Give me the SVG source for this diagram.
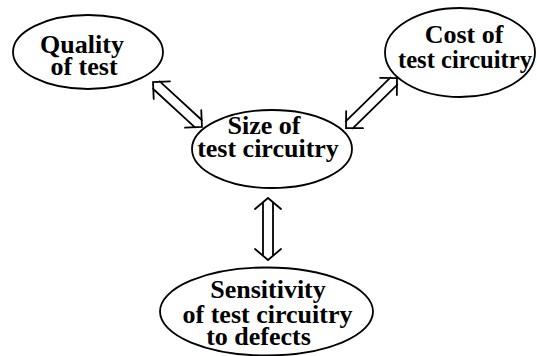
<svg xmlns="http://www.w3.org/2000/svg" width="537" height="356" viewBox="0 0 537 356">
<style>
.node ellipse{fill:#fff;stroke:#000;stroke-width:1.8}
.node text{font-family:"Liberation Serif","Times New Roman",serif;font-weight:bold;font-size:26px;fill:#000;text-anchor:middle}
.arrow{fill:none;stroke:#000;stroke-width:1.8;stroke-linecap:round;stroke-linejoin:miter}
</style>
<rect width="537" height="356" fill="#fff"/>
<g id="connectors">
<path class="arrow" transform="translate(153,82) rotate(42.6)" d="M12,-12 L0,0 L12,12 M4.5,-5 L62,-5 M4.5,5 L62,5 M54.5,-12 L66.5,0 L54.5,12"/>
<path class="arrow" transform="translate(346,128) rotate(-44.4)" d="M12,-12 L0,0 L12,12 M4.5,-5 L67,-5 M4.5,5 L67,5 M59.4,-12 L71.4,0 L59.4,12"/>
<path class="arrow" transform="translate(268,198) rotate(90)" d="M11,-13 L0,0 L11,13 M4.5,-5 L57.5,-5 M4.5,5 L57.5,5 M51,-13 L62,0 L51,13"/>
</g>
<g id="quality" class="node">
<ellipse cx="88" cy="52" rx="75" ry="37"/>
<text x="82" y="53">Quality</text>
<text x="84" y="75">of test</text>
</g>
<g id="cost" class="node">
<ellipse cx="460" cy="52.5" rx="75" ry="44.5"/>
<text x="464" y="43">Cost of</text>
<text x="465" y="68" textLength="134" lengthAdjust="spacingAndGlyphs">test circuitry</text>
</g>
<g id="size" class="node">
<ellipse cx="272" cy="149" rx="80" ry="39"/>
<text x="264" y="134">Size of</text>
<text x="268" y="157">test circuitry</text>
</g>
<g id="sensitivity" class="node">
<ellipse cx="266.5" cy="311.5" rx="106.5" ry="44"/>
<text x="268" y="298">Sensitivity</text>
<text x="267.5" y="323">of test circuitry</text>
<text x="258.5" y="345">to defects</text>
</g>
</svg>
